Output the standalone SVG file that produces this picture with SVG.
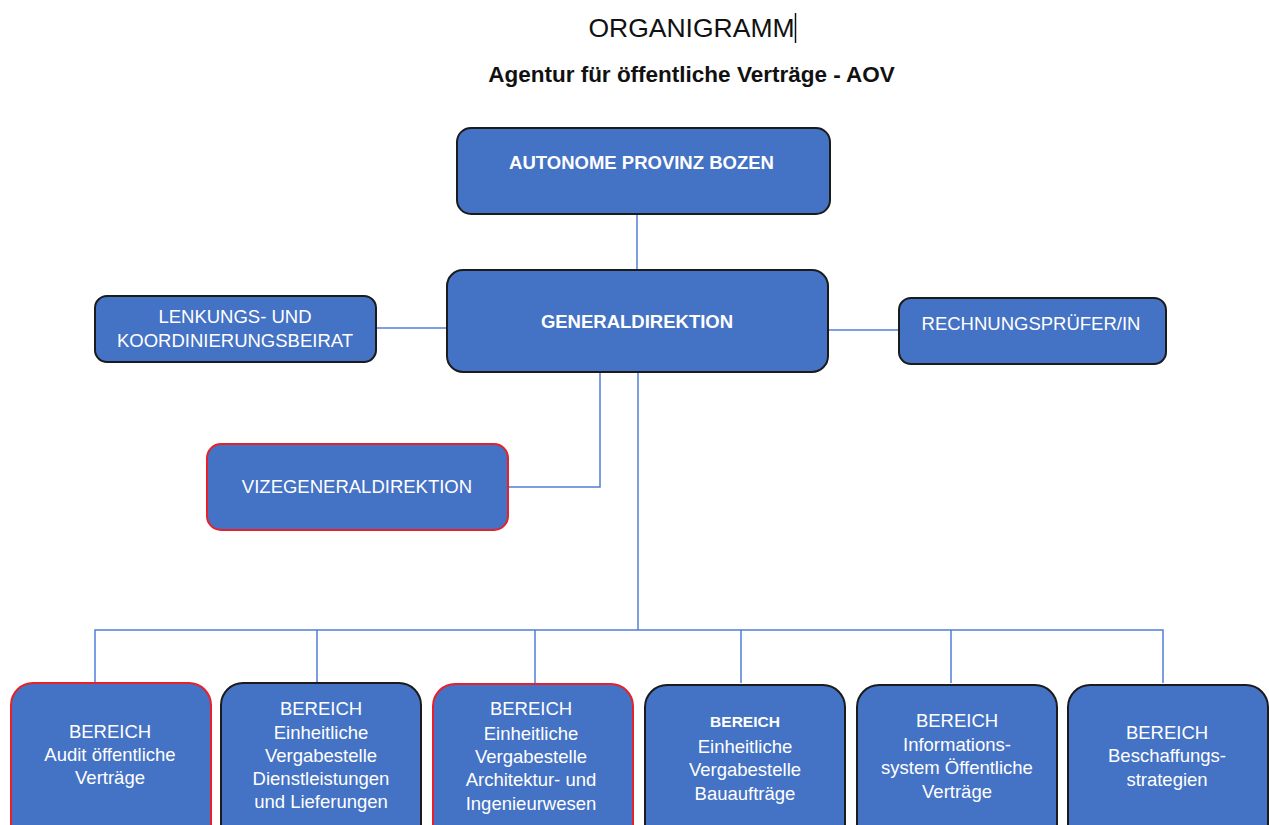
<svg xmlns="http://www.w3.org/2000/svg" width="1269" height="825" viewBox="0 0 1269 825">
<style>
.box{fill:#4472C4;stroke:#1b1b1b;stroke-width:2}
.red{fill:#4472C4;stroke:#E8202A;stroke-width:2}
.lbl{font-family:"Liberation Sans",Arial,sans-serif;font-size:18.5px;fill:#FFFFFF;text-anchor:middle}
.b{font-weight:bold}
.sm{font-size:15.5px;font-weight:bold}
.con{fill:none;stroke:#4F7FD6;stroke-width:1.5}
</style>
<rect width="1269" height="825" fill="#FFFFFF"/>
<text x="691.5" y="37" font-family="Liberation Sans,Arial,sans-serif" font-size="26.5" text-anchor="middle" fill="#111">ORGANIGRAMM</text>
<line x1="795.5" y1="13" x2="795.5" y2="43" stroke="#111" stroke-width="1.5"/>
<text x="691.5" y="82" font-family="Liberation Sans,Arial,sans-serif" font-size="22.5" font-weight="bold" text-anchor="middle" fill="#111">Agentur für öffentliche Verträge - AOV</text>
<g id="connectors">
<path class="con" d="M637 214V270"/>
<path class="con" d="M376 328H447"/>
<path class="con" d="M828 330H899"/>
<path class="con" d="M600 372V487H508"/>
<path class="con" d="M638 372V630"/>
<path class="con" d="M95 683V630H1163V683"/>
<path class="con" d="M317 630V683M535 630V683M741 630V683M951 630V683"/>
</g>
<g id="n-autonome"><rect class="box" x="457" y="128" width="373" height="86" rx="14"/><text class="lbl b" x="641.5" y="169">AUTONOME PROVINZ BOZEN</text></g>
<g id="n-general"><rect class="box" x="447" y="270" width="381" height="102" rx="16"/><text class="lbl b" x="637" y="328">GENERALDIREKTION</text></g>
<g id="n-lenkung"><rect class="box" x="95" y="296" width="281" height="66" rx="12"/><text class="lbl" x="235" y="323">LENKUNGS- UND</text><text class="lbl" x="235" y="347">KOORDINIERUNGSBEIRAT</text></g>
<g id="n-rechnung"><rect class="box" x="899" y="298" width="267" height="66" rx="12"/><text class="lbl" x="1031" y="330">RECHNUNGSPRÜFER/IN</text></g>
<g id="n-vize"><rect class="red" x="207" y="444" width="301" height="86" rx="14"/><text class="lbl" x="357" y="493">VIZEGENERALDIREKTION</text></g>
<g id="n-audit"><rect class="red" x="11" y="683" width="200" height="170" rx="22"/><text class="lbl" x="110" y="738">BEREICH</text><text class="lbl" x="110" y="761">Audit öffentliche</text><text class="lbl" x="110" y="784">Verträge</text></g>
<g id="n-dienst"><rect class="box" x="221" y="683" width="200" height="170" rx="22"/><text class="lbl" x="321" y="715">BEREICH</text><text class="lbl" x="321" y="739">Einheitliche</text><text class="lbl" x="321" y="762">Vergabestelle</text><text class="lbl" x="321" y="785">Dienstleistungen</text><text class="lbl" x="321" y="808">und Lieferungen</text></g>
<g id="n-arch"><rect class="red" x="433" y="684" width="200" height="170" rx="22"/><text class="lbl" x="531" y="715">BEREICH</text><text class="lbl" x="531" y="740">Einheitliche</text><text class="lbl" x="531" y="763">Vergabestelle</text><text class="lbl" x="531" y="786">Architektur- und</text><text class="lbl" x="531" y="810">Ingenieurwesen</text></g>
<g id="n-bau"><rect class="box" x="645" y="685" width="200" height="170" rx="22"/><text class="lbl sm" x="745" y="727">BEREICH</text><text class="lbl" x="745" y="753">Einheitliche</text><text class="lbl" x="745" y="776">Vergabestelle</text><text class="lbl" x="745" y="800">Bauaufträge</text></g>
<g id="n-info"><rect class="box" x="857" y="685" width="200" height="170" rx="22"/><text class="lbl" x="957" y="727">BEREICH</text><text class="lbl" x="957" y="751">Informations-</text><text class="lbl" x="957" y="774">system Öffentliche</text><text class="lbl" x="957" y="798">Verträge</text></g>
<g id="n-beschaff"><rect class="box" x="1068" y="685" width="200" height="170" rx="22"/><text class="lbl" x="1167" y="739">BEREICH</text><text class="lbl" x="1167" y="762">Beschaffungs-</text><text class="lbl" x="1167" y="786">strategien</text></g>
</svg>
